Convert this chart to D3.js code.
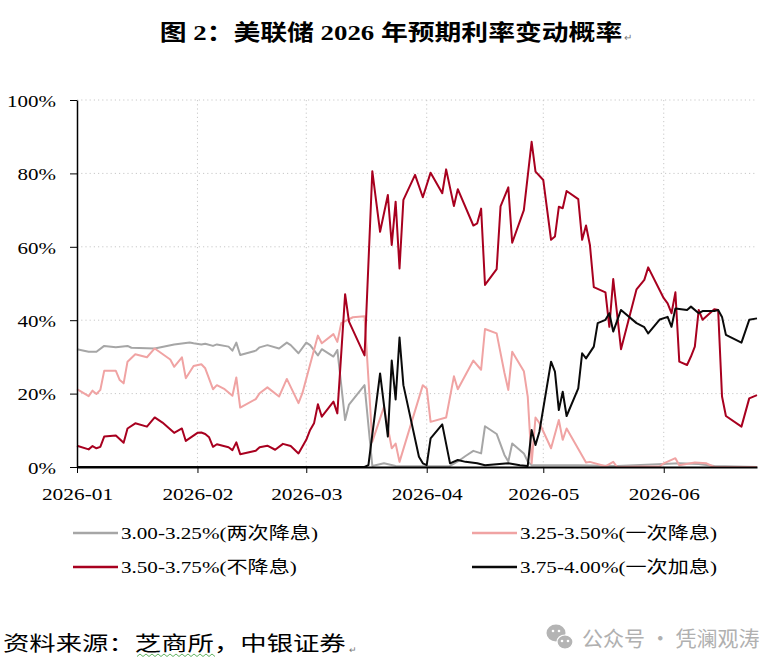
<!DOCTYPE html>
<html>
<head>
<meta charset="utf-8">
<script src="https://cdn.jsdelivr.net/npm/d3@7"></script>
<style>
  body { margin: 0; background: #fff; }
  svg text { font-family: "Liberation Serif", "Times New Roman", "Noto Sans CJK SC", serif; fill: #000; }
  .wide { transform-box: fill-box; transform-origin: center; transform: scaleX(1.22); }
  .wide-l { transform-box: fill-box; transform-origin: left center; transform: scaleX(1.28); }
  .wide-r { transform-box: fill-box; transform-origin: right center; transform: scaleX(1.2); }
</style>
</head>
<body>
<div class="rate-chart"></div>
<script>

// probabilities (%), [date, value]
var cut2 = [["01-01",32.1],["01-04",31.4],["01-06",31.4],["01-08",33.0],["01-11",32.6],["01-14",33.0],["01-15",32.5],["01-21",32.3],["01-26",33.4],["01-30",33.9],["01-31",33.7],["02-02",33.4],["02-03",33.6],["02-05",33.0],["02-06",33.4],["02-09",32.8],["02-10",31.7],["02-11",33.9],["02-12",30.5],["02-16",31.7],["02-17",32.6],["02-19",33.2],["02-22",32.3],["02-24",33.9],["02-25",33.2],["02-27",31.0],["03-01",33.9],["03-02",33.2],["03-04",30.4],["03-05",32.1],["03-08",30.1],["03-09",31.9],["03-11",12.8],["03-12",17.0],["03-16",22.3],["03-18",0.3],["03-21",1.0],["03-24",0.3],["03-27",0.2],["04-07",0.3],["04-09",1.5],["04-11",3.0],["04-13",4.4],["04-15",3.7],["04-16",11.1],["04-19",9.0],["04-21",3.3],["04-22",1.5],["04-23",6.4],["04-26",3.7],["04-27",1.5],["04-28",0.5],["05-10",0.5],["05-20",0.3],["06-01",0.8],["06-05",1.0],["06-10",0.8],["06-14",0.3],["06-25",0]];

var cut1 = [["01-01",21.2],["01-04",19.3],["01-05",20.8],["01-06",19.9],["01-07",21.0],["01-08",26.2],["01-11",26.2],["01-12",23.7],["01-13",22.8],["01-14",28.7],["01-16",30.7],["01-19",29.9],["01-21",32.3],["01-25",29.3],["01-26",27.3],["01-28",29.9],["01-29",24.2],["01-31",27.5],["02-02",28.0],["02-03",26.9],["02-05",21.2],["02-06",22.3],["02-08",21.2],["02-10",19.4],["02-11",24.4],["02-12",16.2],["02-16",18.5],["02-17",20.1],["02-19",21.7],["02-22",19.2],["02-24",24.0],["02-27",17.4],["02-28",20.1],["03-04",35.8],["03-05",33.7],["03-08",36.2],["03-09",34.1],["03-10",39.2],["03-13",40.8],["03-16",41.1],["03-18",6.9],["03-21",16.4],["03-23",5.1],["03-24",6.4],["03-25",1.4],["03-31",22.3],["04-01",21.4],["04-02",12.3],["04-06",13.5],["04-08",24.7],["04-09",21.2],["04-13",29.0],["04-15",26.5],["04-16",37.6],["04-19",36.4],["04-21",25.7],["04-22",21.0],["04-23",31.4],["04-26",26.1],["04-27",19.2],["04-28",1.0],["04-29",13.5],["04-30",12.0],["05-03",5.1],["05-05",12.8],["05-06",7.4],["05-07",10.5],["05-12",1.2],["05-13",1.4],["05-17",0.2],["05-19",1.4],["05-20",0],["05-31",0.2],["06-01",1.0],["06-04",2.4],["06-05",0.5],["06-09",1.2],["06-12",1.0],["06-14",0],["06-25",0]];

var hold = [["01-01",5.8],["01-04",4.8],["01-05",5.7],["01-06",5.1],["01-07",5.5],["01-08",8.3],["01-11",8.6],["01-13",6.6],["01-14",10.5],["01-16",11.9],["01-19",11.0],["01-21",13.5],["01-23",12.1],["01-26",9.3],["01-28",10.5],["01-29",7.1],["02-01",9.3],["02-02",9.4],["02-03",9.0],["02-04",8.1],["02-05",5.5],["02-06",6.2],["02-09",5.4],["02-10",4.6],["02-11",6.7],["02-12",3.5],["02-16",4.4],["02-17",5.4],["02-19",5.8],["02-21",4.7],["02-23",6.3],["02-25",5.7],["02-27",3.7],["03-01",7.4],["03-02",10.1],["03-03",11.9],["03-04",17.1],["03-05",13.7],["03-08",17.8],["03-09",14.6],["03-11",47.1],["03-12",39.6],["03-16",30.4],["03-18",80.6],["03-20",64.1],["03-22",74.1],["03-23",60.5],["03-24",72.3],["03-25",54.1],["03-26",72.8],["03-29",79.6],["03-31",73.5],["04-02",80.2],["04-05",74.6],["04-06",81.1],["04-08",71.1],["04-09",75.7],["04-13",65.8],["04-14",66.4],["04-15",70.4],["04-16",49.6],["04-19",53.9],["04-20",71.0],["04-22",76.2],["04-23",61.1],["04-26",70.0],["04-28",88.6],["04-29",80.5],["05-01",78.2],["05-03",61.9],["05-04",62.8],["05-05",70.9],["05-06",70.5],["05-07",75.2],["05-10",73.0],["05-11",61.9],["05-12",65.8],["05-13",60.5],["05-14",49.0],["05-17",47.6],["05-18",38.2],["05-19",51.2],["05-21",32.1],["05-25",48.4],["05-27",51.0],["05-28",54.4],["06-01",46.0],["06-02",44.6],["06-03",41.9],["06-04",47.6],["06-05",28.7],["06-07",27.8],["06-08",30.1],["06-09",32.8],["06-10",42.8],["06-11",40.1],["06-14",43.0],["06-15",42.8],["06-16",19.2],["06-17",13.9],["06-21",11.0],["06-23",18.7],["06-25",19.6]];

var hike1 = [["01-01",0],["03-16",0],["03-17",0.5],["03-20",25.5],["03-22",8.3],["03-23",29.0],["03-24",18.4],["03-25",35.3],["03-26",22.3],["03-30",2.8],["03-31",1.0],["04-01",0.5],["04-02",7.8],["04-05",11.6],["04-07",1.0],["04-09",1.9],["04-11",1.4],["04-14",1.0],["04-16",0.5],["04-22",1.0],["04-25",0.5],["04-27",0.3],["04-28",10.1],["04-29",6.0],["04-30",9.6],["05-03",28.7],["05-04",26.0],["05-05",15.5],["05-06",20.5],["05-07",13.9],["05-10",21.4],["05-11",31.0],["05-12",29.6],["05-14",32.8],["05-15",39.2],["05-17",40.1],["05-18",41.9],["05-19",36.9],["05-21",42.8],["05-25",39.2],["05-27",38.1],["05-28",36.4],["05-31",40.2],["06-02",40.9],["06-03",38.2],["06-04",43.2],["06-07",42.8],["06-08",43.7],["06-10",41.9],["06-11",42.5],["06-14",42.5],["06-15",42.8],["06-16",40.9],["06-17",36.0],["06-21",33.9],["06-23",40.1],["06-25",40.5]];

var seriesNames = ["3.00-3.25%(两次降息)", "3.25-3.50%(一次降息)", "3.50-3.75%(不降息)", "3.75-4.00%(一次加息)"];
var seriesData = [cut2, cut1, hold, hike1];
var colors = ["#a6a6a6", "#f0a3a3", "#a8001f", "#0a0a0a"];
var yTicks = [0, 20, 40, 60, 80, 100];
var dateRange = ["2026-01-01", "2026-06-25"];

var width = 771, height = 669;
var margin = { left: 77, right: 14, top: 100, bottom: 202 };

var parse = d3.utcParse("%Y-%m-%d");

var svg = d3.select(".rate-chart")
    .append("svg")
    .attr("width", width)
    .attr("height", height);

var x = d3.scaleUtc()
    .domain(dateRange.map(parse))
    .range([margin.left, width - margin.right]);

var y = d3.scaleLinear()
    .domain([0, 100])
    .range([height - margin.bottom, margin.top]);

// title
svg.append("text")
    .attr("class", "wide")
    .attr("x", 391)
    .attr("y", 40)
    .attr("text-anchor", "middle")
    .style("font-size", "22px")
    .style("font-weight", "bold")
    .text("图 2：美联储 2026 年预期利率变动概率");
svg.append("text")
    .attr("x", 624).attr("y", 41)
    .style("font-size", "10px").style("fill", "#777")
    .text("↵");

// dotted grid
var months = x.ticks(d3.utcMonth.every(1));
svg.append("g")
    .selectAll("line")
    .data(yTicks.filter(function(d) { return d > 0; }))
    .enter().append("line")
    .attr("x1", x.range()[0]).attr("x2", x.range()[1])
    .attr("y1", function(d) { return y(d); })
    .attr("y2", function(d) { return y(d); })
    .attr("stroke", "#c8c8c8")
    .attr("stroke-dasharray", "1.2,3");
svg.append("g")
    .selectAll("line")
    .data(months.slice(1))
    .enter().append("line")
    .attr("x1", function(d) { return x(d); })
    .attr("x2", function(d) { return x(d); })
    .attr("y1", y(100)).attr("y2", y(0))
    .attr("stroke", "#c8c8c8")
    .attr("stroke-dasharray", "1.2,3");

// series lines
var line = d3.line()
    .x(function(d) { return x(parse("2026-" + d[0])); })
    .y(function(d) { return y(d[1]); });

svg.append("g")
    .selectAll("path")
    .data(seriesData)
    .enter().append("path")
    .attr("d", line)
    .attr("fill", "none")
    .attr("stroke", function(d, i) { return colors[i]; })
    .attr("stroke-width", 2)
    .attr("stroke-linejoin", "round");

// axes
var yAxis = svg.append("g")
    .attr("transform", "translate(" + margin.left + ",0)")
    .call(d3.axisLeft(y).tickValues(yTicks).tickSize(7).tickSizeOuter(0)
        .tickFormat(function(d) { return d + "%"; }));
yAxis.select(".domain").attr("stroke-width", 1.5);
yAxis.selectAll("text")
    .attr("class", "wide-r")
    .attr("x", -21)
    .attr("dy", "0.36em")
    .style("font-size", "17.5px")
    .style("font-family", null);

var xAxis = svg.append("g")
    .attr("transform", "translate(0," + y(0) + ")")
    .call(d3.axisBottom(x).tickValues(months).tickSize(6).tickSizeOuter(0)
        .tickFormat(d3.utcFormat("%Y-%m")));
xAxis.select(".domain").attr("stroke-width", 2.2);
xAxis.selectAll("text")
    .attr("class", "wide")
    .attr("y", 33)
    .attr("dy", null)
    .style("font-size", "17.5px")
    .style("font-family", null);

// legend
var legend = svg.append("g")
    .selectAll("g")
    .data(seriesNames)
    .enter().append("g")
    .attr("transform", function(d, i) {
        return "translate(" + (i % 2 ? 472 : 73) + "," + (i < 2 ? 533 : 567) + ")";
    });
legend.append("line")
    .attr("x1", 0).attr("x2", 45)
    .attr("stroke", function(d, i) { return colors[i]; })
    .attr("stroke-width", 2.5);
legend.append("text")
    .attr("class", "wide-l")
    .attr("x", 48)
    .attr("dy", "0.35em")
    .style("font-size", "16.5px")
    .text(function(d) { return d; });

// source note
svg.append("text")
    .attr("class", "wide-l")
    .attr("x", 3).attr("y", 651)
    .style("font-size", "20.6px")
    .text("资料来源：芝商所，中银证券");
svg.append("text")
    .attr("x", 349).attr("y", 653)
    .style("font-size", "9px").style("fill", "#777")
    .text("↵");
svg.append("path")
    .attr("d", d3.range(137, 218, 3).map(function(v, i) {
        return (i ? "L" : "M") + v + "," + (i % 2 ? 654 : 656.5);
    }).join(""))
    .attr("fill", "none")
    .attr("stroke", "#3aa03a")
    .attr("stroke-width", 0.8);

// watermark
var wm = svg.append("g").attr("fill", "#b4b4b4");
wm.append("ellipse").attr("cx", 556).attr("cy", 633).attr("rx", 9.5).attr("ry", 8.5);
wm.append("ellipse").attr("cx", 565).attr("cy", 642).attr("rx", 8).attr("ry", 7).attr("stroke", "#fff").attr("stroke-width", 1.2);
wm.selectAll("circle")
    .data([[553, 631], [559, 631], [562, 641], [568, 641]])
    .enter().append("circle")
    .attr("cx", function(d) { return d[0]; })
    .attr("cy", function(d) { return d[1]; })
    .attr("r", 1.3)
    .attr("fill", "#fff");
svg.append("text")
    .attr("x", 582).attr("y", 646)
    .style("font-family", "'Noto Sans CJK SC', sans-serif")
    .style("font-size", "21px")
    .style("fill", "#b0b0b0")
    .text("公众号 · 凭澜观涛");

</script>
</body>
</html>
